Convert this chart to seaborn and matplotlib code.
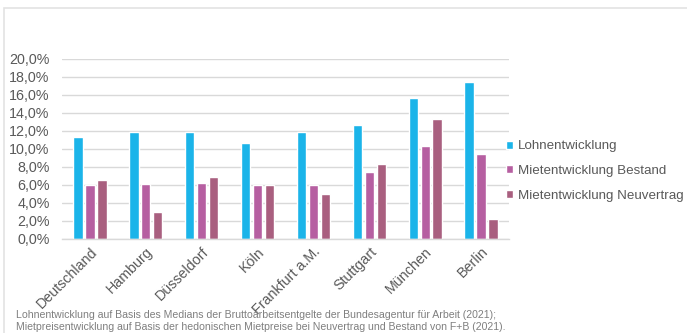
import matplotlib
matplotlib.use("Agg")
import matplotlib.pyplot as plt
import seaborn as sns
import pandas as pd
from matplotlib.patches import Rectangle
from matplotlib.ticker import FuncFormatter

cities = ["Deutschland", "Hamburg", "Düsseldorf", "Köln", "Frankfurt a.M.",
          "Stuttgart", "München", "Berlin"]
lohn = [11.3, 11.9, 11.9, 10.7, 11.9, 12.7, 15.7, 17.5]
bestand = [6.0, 6.15, 6.2, 6.05, 6.05, 7.5, 10.3, 9.5]
neuvertrag = [6.55, 3.05, 6.9, 6.05, 5.05, 8.35, 13.35, 2.2]
series = ["Lohnentwicklung", "Mietentwicklung Bestand", "Mietentwicklung Neuvertrag"]
colors = ["#1BB4E9", "#B65FA1", "#A95F7F"]
footnote = ["Lohnentwicklung auf Basis des Medians der Bruttoarbeitsentgelte der Bundesagentur für Arbeit (2021);",
            "Mietpreisentwicklung auf Basis der hedonischen Mietpreise bei Neuvertrag und Bestand von F+B (2021)."]

df = pd.DataFrame({
    "Stadt": cities * 3,
    "Wert": lohn + bestand + neuvertrag,
    "Serie": [series[0]] * 8 + [series[1]] * 8 + [series[2]] * 8,
})

sns.set_theme(style="white")
plt.rcParams["font.family"] = ["Liberation Sans", "DejaVu Sans"]

fig = plt.figure(figsize=(6.87, 3.33), dpi=100)
W, H = 687, 333
ax = fig.add_axes([62 / W, 1 - 239 / H, (509 - 62) / W, (239 - 59) / H])

sns.barplot(data=df, x="Stadt", y="Wert", hue="Serie", palette=colors,
            width=0.64, gap=0.22, ax=ax, saturation=1, legend=True)

ax.set_ylim(0, 20)
ax.set_xlim(-0.5, 7.5)
ax.set_yticks(range(0, 21, 2))
ax.yaxis.set_major_formatter(FuncFormatter(lambda v, p: f"{v:.1f}%".replace(".", ",")))
ax.grid(axis="y", color="#D9D9D9", linewidth=1)
ax.set_axisbelow(True)
for s in ["top", "right", "left"]:
    ax.spines[s].set_visible(False)
ax.spines["bottom"].set_color("#D9D9D9")
ax.spines["bottom"].set_linewidth(1)
ax.set_xlabel("")
ax.set_ylabel("")
ax.tick_params(axis="both", length=0, labelsize=10.3, labelcolor="#595959")
ax.tick_params(axis="y", pad=9)
ax.tick_params(axis="x", pad=4)
plt.setp(ax.get_xticklabels(), rotation=45, ha="right", rotation_mode="anchor")

handles, labels = ax.get_legend_handles_labels()
ax.legend(handles, labels, loc="center left", bbox_to_anchor=(1.0 - 0.007, 0.378),
          frameon=False, fontsize=9.6, handlelength=0.55, handleheight=0.55,
          handletextpad=0.35, labelspacing=0.95, borderaxespad=0.0, borderpad=0.0,
          labelcolor="#595959")

fig.text(16 / W, 1 - 318 / H, footnote[0], fontsize=7.6, color="#7F7F7F",
         va="baseline", ha="left")
fig.text(16 / W, 1 - 330 / H, footnote[1], fontsize=7.6, color="#7F7F7F",
         va="baseline", ha="left")

fig.patches.append(Rectangle((3.5 / W, -0.1), 1.2, 1 - 8 / H + 0.1,
                             transform=fig.transFigure, fill=False,
                             edgecolor="#E3E3E3", linewidth=1.2))

fig.savefig("out.png", dpi=100)
